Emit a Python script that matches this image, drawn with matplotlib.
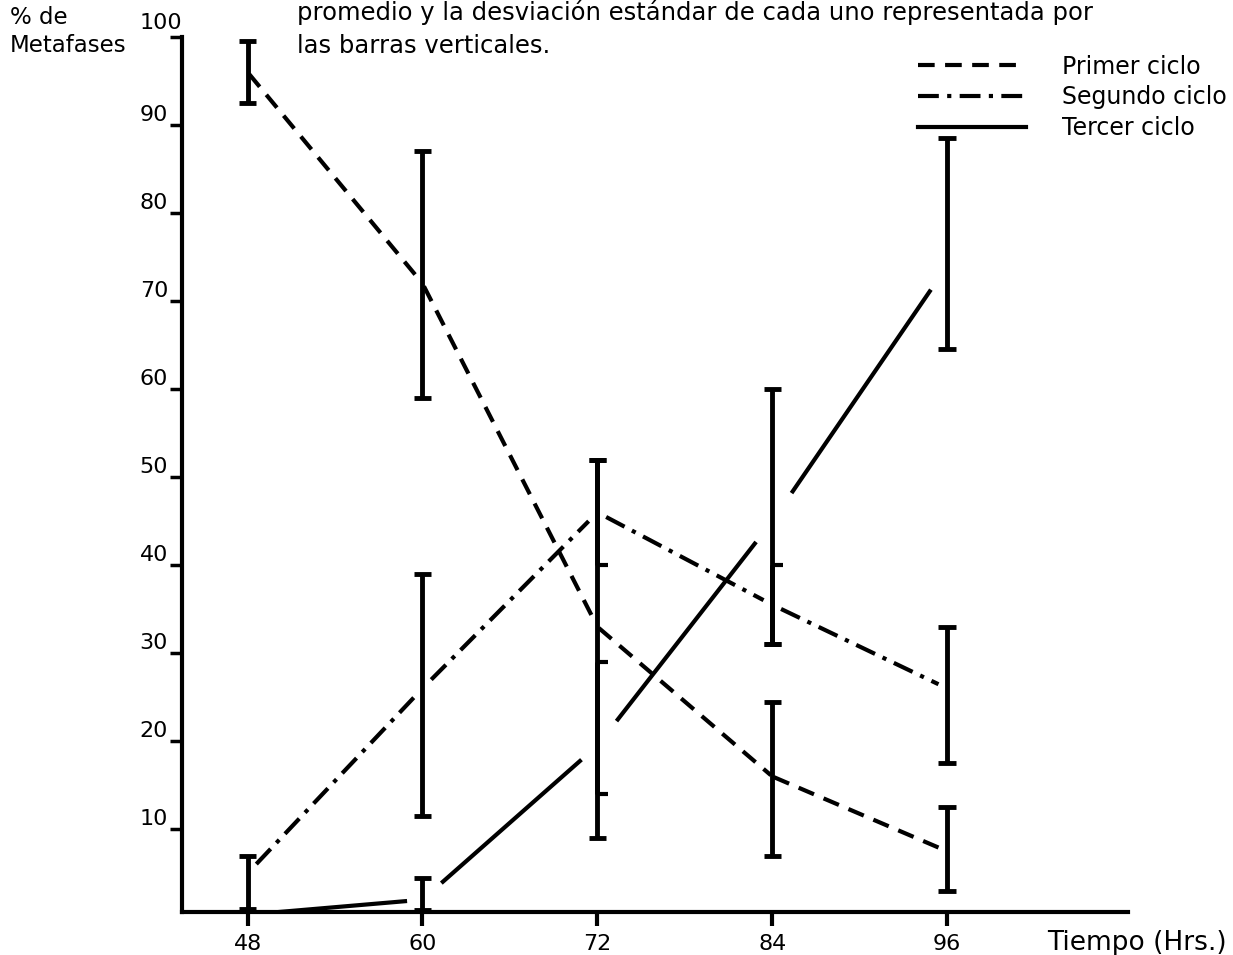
import numpy as np
import matplotlib.pyplot as plt
from matplotlib.lines import Line2D

# Horas de cultivo
horas = [48, 60, 72, 84, 96]

# % de metafases en cada ciclo (promedio) y limites de las barras
primer = [96, 72, 33, 16, 7.5]
primer_inf = [92.5, 59, 14, 7, 3]
primer_sup = [99.5, 87, 52, 24.5, 12.5]

segundo = [5, 26, 46, 35.5, 26]
segundo_inf = [1, 11.5, 40, 31, 17.5]
segundo_sup = [7, 39, 52, 40, 33]

tercer = [0.3, 2, 19.5, 45, 74]
tercer_inf = [0.3, 0.8, 9, 31, 64.5]
tercer_sup = [0.3, 4.5, 29, 60, 88.5]

y_ticks = [10, 20, 30, 40, 50, 60, 70, 80, 90, 100]

plt.rcParams['font.family'] = ['DejaVu Sans']

fig = plt.figure(figsize=(12.33, 9.55), dpi=100)
ax = fig.add_axes([0.1476, 0.045, 0.7672, 0.9163])
ax.set_xlim(43.5, 108.4)
ax.set_ylim(0.6, 100)


def tramos(x, y, estilo, gap):
    # each segment is drawn a bit short so it stops before the bars
    for i in range(len(x) - 1):
        x0, x1 = x[i], x[i + 1]
        y0, y1 = y[i], y[i + 1]
        t0 = gap[0] / (x1 - x0)
        t1 = 1 - gap[1] / (x1 - x0)
        xs = [x0 + (x1 - x0) * t0, x0 + (x1 - x0) * t1]
        ys = [y0 + (y1 - y0) * t0, y0 + (y1 - y0) * t1]
        ax.plot(xs, ys, color='black', lw=3, **estilo)


tramos(horas, primer, dict(ls=(0, (4, 2.5))), (0.1, 0.1))
tramos(horas, segundo, dict(ls=(0, (5, 2, 1, 2))), (0.6, 0.6))
tramos(horas, tercer, dict(ls='-'), (1.4, 1.2))

# barras verticales (desviacion estandar)
limites = [(primer_inf, primer_sup), (segundo_inf, segundo_sup), (tercer_inf, tercer_sup)]
for j, h in enumerate(horas):
    barras = [(inf[j], sup[j]) for inf, sup in limites if sup[j] - inf[j] >= 0.5]
    for k, (a, b) in enumerate(barras):
        ax.plot([h, h], [a, b], color='black', lw=3.5, solid_capstyle='butt')
        for e in (a, b):
            # an end that falls inside another bar only gets a small tick
            dentro = any(o[0] < e < o[1] for m, o in enumerate(barras) if m != k)
            if dentro:
                ax.plot([h, h + 0.7], [e, e], color='black', lw=3, solid_capstyle='butt')
            else:
                ax.plot([h - 0.6, h + 0.6], [e, e], color='black', lw=3.5, solid_capstyle='butt')

for s in ['top', 'right']:
    ax.spines[s].set_visible(False)
for s in ['left', 'bottom']:
    ax.spines[s].set_linewidth(3)

ax.set_xticks(horas)
ax.set_xticklabels([str(h) for h in horas], fontsize=16)
ax.tick_params(axis='x', length=10, width=3, pad=6)

ax.set_yticks(y_ticks)
ax.set_yticklabels([str(v) for v in y_ticks[:-1]] + [''], fontsize=16, va='bottom')
ax.tick_params(axis='y', length=9, width=2.5, pad=1)
ax.text(ax.get_xlim()[0], 101.6, str(y_ticks[-1]), fontsize=16, ha='right', va='center')

fig.text(0.008, 0.967, '% de\nMetafases', fontsize=16.5, va='center', ha='left',
         linespacing=1.25)
fig.text(0.241, 0.970,
         'promedio y la desviación estándar de cada uno representada por\nlas barras verticales.',
         fontsize=17.5, va='center', ha='left', linespacing=1.45)
fig.text(0.849, 0.0126, 'Tiempo (Hrs.)', fontsize=19, ha='left', va='center')

handles = [Line2D([], [], color='black', lw=3, ls=(0, (4, 2.5))),
           Line2D([], [], color='black', lw=3, ls=(0, (5, 2, 1, 2))),
           Line2D([], [], color='black', lw=3)]
fig.legend(handles, ['Primer ciclo', 'Segundo ciclo', 'Tercer ciclo'],
           loc='upper left', bbox_to_anchor=(0.727, 0.965), frameon=False,
           fontsize=17, handlelength=4.6, handletextpad=1.5, labelspacing=0.28)

fig.savefig('out.png', dpi=100)
